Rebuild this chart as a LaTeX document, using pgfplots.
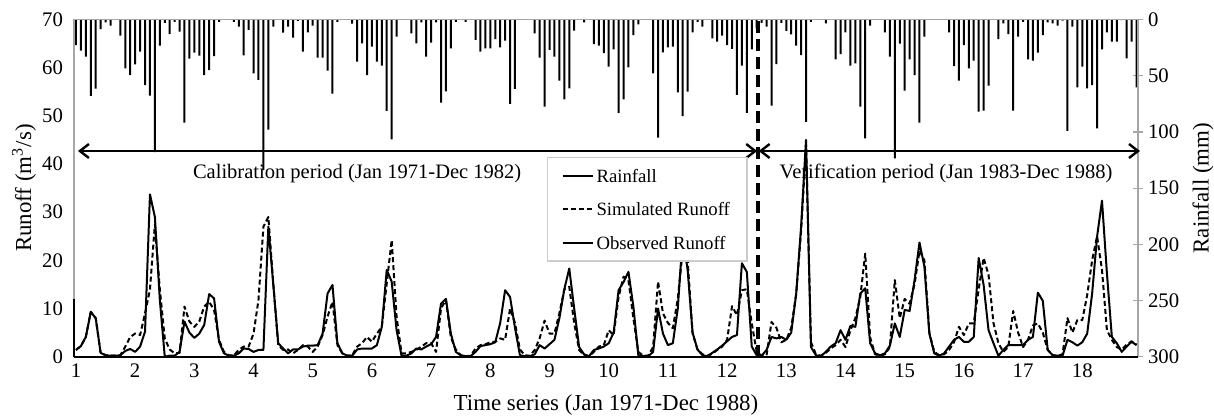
\documentclass[border=0pt]{standalone}
\usepackage{fontspec}
\setmainfont{Liberation Serif}
\usepackage{pgfplots}
\usepackage{pgfplotstable}
\pgfplotsset{compat=1.18}
\usetikzlibrary{arrows.meta,calc}

% monthly series, m = month index from Jan 1971
\pgfplotstableread{
m rain obs sim
0 22.7 1.4 1.4
1 27.7 2.2 2.2
2 33 4.1 4.1
3 68 9.3 9.3
4 61.5 8.0 8.0
5 8.5 0.8 0.8
6 2.5 0.3 0.3
7 5.5 0.2 0.2
8 0 0.2 0.2
9 14.4 0.3 0.3
10 43.4 1.2 2.1
11 49.4 1.6 4.1
12 40 1.0 4.8
13 28.6 2.1 4.5
14 58.3 5.2 9
15 67.8 33.7 14
16 118 29 27.5
17 23.3 11.8 14
18 3 0 3.8
19 13 0.2 1.5
20 2 0.2 0.7
21 10.8 1.0 0.8
22 91.8 7.3 10.4
23 34.8 5 7.3
24 29.5 3.9 6.2
25 32.2 4.8 7.3
26 49.4 6.6 10.4
27 45 13 11.4
28 32.5 12.1 9.7
29 2 3.1 3.5
30 0 0.7 1.0
31 0 0.2 0.3
32 2 0.2 0.3
33 6.4 0.7 1.4
34 32 1.7 2.1
35 9.3 1.6 2.1
36 48 1.0 4.8
37 53.8 1.4 11.8
38 134 1.4 27
39 98 27 29
40 6.4 15 15.2
41 0 2.8 2.4
42 11.7 1.7 1.4
43 6.4 0.7 1.5
44 16.2 1.5 0.7
45 1.3 1.5 1.4
46 28.6 2.1 2.4
47 11.4 2.3 2.1
48 5.5 2.3 1.0
49 34 2.4 2.1
50 34 4.8 4.5
51 45.5 13.1 8.3
52 66 14.9 11.4
53 2 2.8 2.4
54 0 0.7 0.7
55 0 0.2 0.2
56 3.7 0.2 0.3
57 37.5 1.5 2.1
58 21.2 1.7 2.8
59 49.4 1.7 4.1
60 24.2 1.7 3.1
61 37.5 2.4 4.8
62 41 6.2 6.2
63 81.4 18 15.2
64 106.6 15.6 24.2
65 15.3 5.5 8.3
66 0 0.2 0.7
67 0 0.2 0.7
68 12.3 0.7 1.0
69 21.2 1.7 1.4
70 2.5 1.5 2.1
71 33 2.1 2.8
72 20.6 2.6 2.8
73 2.5 4.1 1.0
74 74 11 10
75 64 12 11.8
76 25.6 4.8 4
77 2 1.0 1.5
78 0 0.3 0.3
79 2 0.1 0.1
80 0 0.1 0.2
81 18.2 1.0 1.7
82 28.6 2.2 2.4
83 25.6 2.4 2.6
84 25.6 2.6 3.0
85 17.4 3.0 3.1
86 24.8 7 3.8
87 18.8 13.8 3.5
88 75 12.4 10
89 61.8 6 7
90 0 0.3 1.5
91 0 0.1 0.3
92 0 0.1 0.2
93 12.3 0.5 1.4
94 34 2.4 3.8
95 77.5 1.7 7.5
96 27 2.6 4.8
97 33 3.5 4.8
98 54.4 8 9
99 71 14 14
100 61.2 18.3 14.5
101 10 10 7
102 0 2 1.4
103 2.5 0.5 0.3
104 0 0.1 0.1
105 22 1.4 1.0
106 23.3 1.7 2.1
107 30 2.1 2.4
108 42 2.8 5.5
109 26.5 5 4.5
110 83 13.8 12.4
111 71 15.5 16.6
112 42.5 17.6 15.9
113 13.8 10.4 8
114 4.3 0.3 1.0
115 0 0.1 0.2
116 0 0.1 0.2
117 48 1.0 2
118 105 10 15.6
119 29.2 4.8 9
120 24.8 2.4 7
121 24.2 2.8 5.9
122 64.8 10 12
123 86 25 22
124 64.2 18 20
125 11.4 5 4.8
126 2 1.5 1.5
127 6.4 0.3 0.5
128 0 0.1 0.2
129 16.8 0.8 0.6
130 19.7 1.5 1.4
131 14.4 2.3 2.1
132 22.7 3.2 3.5
133 26.2 4.1 10.5
134 67 4.5 8.6
135 41 19.4 13.8
136 83 17.6 14
137 26.5 2.1 6.9
138 8 0.3 1.0
139 3 0.2 0.2
140 6.4 1.4 0.3
141 76.7 4.1 7.2
142 39.6 3.8 6.0
143 3 4.1 3.0
144 10.2 3.5 3.5
145 13.2 5 6
146 23.3 13 13
147 31.6 27 26
148 91 45 44
149 2 2 3
150 0 0.3 0.5
151 0 0.1 0.2
152 3.4 1.0 0.8
153 0 2.1 1.7
154 35.4 2.8 2.4
155 30.7 5.5 3.5
156 11.4 3.5 2.0
157 41 6.4 5.5
158 39 6.2 8
159 77.5 13.1 12.4
160 105.7 14.2 21.4
161 5.5 2.8 4
162 0 0.7 0.5
163 0 0.3 0.2
164 11.4 0.7 0.5
165 33 2.3 2.0
166 123.5 6.9 15.9
167 21.5 4.1 8
168 63.3 9.7 12
169 35.4 9.5 11
170 49.4 15.9 15
171 91.8 23.7 22
172 15.3 18.7 20
173 0 4.8 5
174 0 0.7 1.0
175 0 0.2 0.3
176 0 0.7 0.5
177 11.4 2.1 1.4
178 41.4 3.5 3.0
179 54.4 4.1 6.2
180 22.7 3.1 4.5
181 43.4 3.1 6.9
182 36.6 4.1 6.9
183 82 20.5 14
184 81 14.9 20.5
185 58.9 5.5 17
186 0 2.8 7
187 17.4 0.2 2.8
188 3.4 1.4 1.0
189 12.9 2.4 2.0
190 81 2.4 9.5
191 15.3 2.4 5
192 2 2.4 2.0
193 35.4 3.5 3.5
194 36.6 4.1 6.5
195 29.5 13.3 6.9
196 13.8 11.6 5
197 2.5 1.4 1.4
198 3.4 0.3 0.3
199 5.5 0.2 0.2
200 1 0.2 0.5
201 99 3.5 8
202 6.4 3.0 5
203 60.4 2.3 7.6
204 42 3.0 7.6
205 61.2 4.8 12.8
206 58.3 13.1 20
207 96.8 24.9 25
208 26.5 32.4 18
209 11.4 17.3 5.5
210 19.7 4.1 3.5
211 19.7 2.8 2.0
212 0.5 1.0 1.5
213 34.5 2.1 2.5
214 19.7 3.1 3.2
215 60.4 2.4 2.5
}\data

\begin{document}
\begin{tikzpicture}
\pgfplotsset{
  every axis/.append style={
    scale only axis, width=532bp, height=168.6bp,
    xmin=-0.4, xmax=215.3, clip=false,
    /pgf/number format/assume math mode=true,
    tick label style={font=\fontsize{10.4}{12}\selectfont},
  },
}
% rainfall bars, hanging from the top (right axis, reversed)
\begin{axis}[
    name=rax,
    ymin=0, ymax=300, y dir=reverse,
    axis y line*=right, axis x line=none,
    ytick={0,50,...,300},
    tick align=center, major tick length=5bp,
    y axis line style={gray!70, line width=0.6bp},
    ytick style={gray!70, line width=0.6bp},
    yticklabel style={xshift=-1bp},
    ybar, bar width=1bp,
]
\addplot[fill=black, draw=none] table[x=m, y=rain]{\data};
\end{axis}
% runoff lines (left axis)
\begin{axis}[
    name=ax,
    ymin=0, ymax=70,
    ytick={0,10,...,70},
    xtick={0,12,...,204},
    xticklabels={1,2,3,4,5,6,7,8,9,10,11,12,13,14,15,16,17,18},
    xtick pos=bottom, ytick pos=left,
    major tick length=0pt,
    axis line style={gray!70, line width=0.6bp},
    yticklabel style={xshift=-2bp},
    legend cell align=left,
    legend image code/.code={\draw[#1] (0bp,0bp) -- (15bp,0bp);},
    legend style={at={(0.4445,0.5922)}, anchor=north west,
      draw=gray!40, fill=white, line width=0.6bp,
      font=\fontsize{9.4}{11}\selectfont,
      inner xsep=7bp, inner ysep=4.3bp, row sep=7.3bp,
      nodes={inner sep=1.5bp, text height=6.5bp, text depth=0bp}},
]
\addlegendimage{black, line width=1bp}
\addlegendentry{Rainfall}
\addplot[black, line width=1bp, line join=round, dash pattern=on 2.5bp off 1.5bp]
  table[x=m, y=sim]{\data};
\addlegendentry{Simulated Runoff}
\addplot[black, line width=1bp, line join=round]
  table[x=m, y=obs]{\data};
\addlegendentry{Observed Runoff}
\addplot[black, line width=1bp, forget plot] coordinates {(-0.4,0) (-0.4,12)};

\draw[black, line width=0.9bp] (rel axis cs:0,0) -- (rel axis cs:1,0);
\draw[line width=2bp, dash pattern=on 6bp off 3bp] (axis cs:138.25,0) -- (axis cs:138.25,70);
\draw[{Straight Barb[length=4.5bp,width=7bp]}-{Straight Barb[length=4.5bp,width=7bp]}, line width=1.2bp]
  (axis cs:0.4,42.7) -- (axis cs:138.1,42.7);
\draw[{Straight Barb[length=4.5bp,width=7bp]}-{Straight Barb[length=4.5bp,width=7bp]}, line width=1.2bp]
  (axis cs:138.4,42.7) -- (axis cs:215.7,42.7);
\node[font=\fontsize{10.3}{12}\selectfont] at (axis cs:57,38.1) {Calibration period (Jan 1971-Dec 1982)};
\node[font=\fontsize{10.3}{12}\selectfont] at (axis cs:176.4,38.1) {Verification period (Jan 1983-Dec 1988)};
\end{axis}
\node[rotate=90, font=\fontsize{11.5}{13}\selectfont] at ($(ax.west)+(-25bp,0)$) {Runoff (m\textsuperscript{3}/s)};
\node[rotate=90, font=\fontsize{11.5}{13}\selectfont] at ($(ax.east)+(32.5bp,0)$) {Rainfall (mm)};
\node[font=\fontsize{11.5}{13}\selectfont] at ($(ax.south)+(0,-24bp)$) {Time series (Jan 1971-Dec 1988)};
\pgfresetboundingbox
\path[use as bounding box] ($(ax.south west)+(-37bp,-31.15bp)$) rectangle ($(ax.north east)+(38bp,9.75bp)$);
\end{tikzpicture}
\end{document}
